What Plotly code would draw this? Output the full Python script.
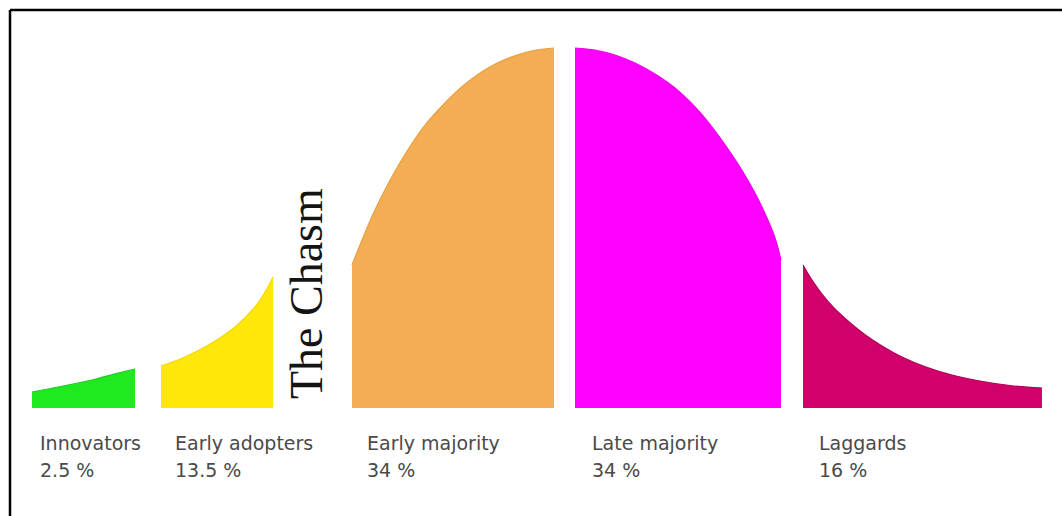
import plotly.graph_objects as go

# Adopter categories (Rogers' diffusion of innovations) and their shares
categories = ["Innovators", "Early adopters", "Early majority", "Late majority", "Laggards"]
shares = [2.5, 13.5, 34, 34, 16]

# Outline of each segment of the adoption curve: position along the axis and curve height
innov_x = [32, 58, 92, 118, 135]
innov_h = [16, 21, 28, 35, 39]

early_adopt_x = [161, 185, 212, 235, 255, 268, 273]
early_adopt_h = [42, 51, 65, 81, 101, 121, 131]

early_major_x = [352, 362, 374, 388, 404, 422, 442, 464, 488, 514, 536, 554]
early_major_h = [143, 168, 196, 224, 252, 279, 302, 323, 340, 352, 358, 360]

late_major_x = [575, 595, 615, 635, 655, 675, 695, 712, 728, 743, 756, 767, 775, 781]
late_major_h = [360, 358, 353, 345, 334, 320, 301, 281, 259, 236, 213, 190, 170, 148]

laggard_x = [803, 812, 822, 834, 848, 864, 882, 902, 926, 952, 980, 1010, 1042]
laggard_h = [143, 128, 114, 100, 87, 74, 62, 51, 41, 33, 27, 22.5, 20]

segments_x = [innov_x, early_adopt_x, early_major_x, late_major_x, laggard_x]
segments_h = [innov_h, early_adopt_h, early_major_h, late_major_h, laggard_h]

fills = ["#1FEA1F", "#FFE70A", "#F3AD55", "#FF00FF", "#D2006A"]
edges = ["#19D019", "#F2D800", "#E9A043", "#EE00EE", "#B0005A"]
label_offsets = [6, 12, 13, 15, 14]

fig = go.Figure()

for xs, hs, fc, ec in zip(segments_x, segments_h, fills, edges):
    fig.add_trace(go.Scatter(
        x=xs, y=hs,
        mode="lines",
        line=dict(color=ec, width=1.2, shape="spline", smoothing=1.0),
        fill="tozeroy",
        fillcolor=fc,
        hoverinfo="skip",
        showlegend=False,
    ))

label_font = dict(family="DejaVu Sans, Arial, sans-serif", size=19, color="#4A4A4A")

# Category names and percentages beneath each segment
for name, share, xs, off in zip(categories, shares, segments_x, label_offsets):
    fig.add_annotation(
        x=xs[0] + off, y=-35, text=name, showarrow=False,
        xanchor="left", yanchor="middle", font=label_font,
    )
    fig.add_annotation(
        x=xs[0] + off, y=-62, text=f"{share:g} %", showarrow=False,
        xanchor="left", yanchor="middle", font=label_font,
    )

# The gap between early adopters and early majority
fig.add_annotation(
    x=306, y=114, text="The Chasm", showarrow=False, textangle=-90,
    xanchor="center", yanchor="middle",
    font=dict(family="Liberation Serif, Times New Roman, serif", size=46, color="#141414"),
)

# Frame line along the top and left side
fig.add_shape(type="line", xref="paper", yref="paper",
              x0=10 / 1062, x1=1.0, y0=1 - 10 / 516, y1=1 - 10 / 516,
              line=dict(color="black", width=2.5))
fig.add_shape(type="line", xref="paper", yref="paper",
              x0=10 / 1062, x1=10 / 1062, y0=0, y1=1 - 10 / 516,
              line=dict(color="black", width=2.5))

fig.update_layout(
    width=1062, height=516,
    margin=dict(l=0, r=0, t=0, b=0),
    paper_bgcolor="white", plot_bgcolor="white",
    xaxis=dict(range=[0, 1062], visible=False, fixedrange=True),
    yaxis=dict(range=[-108, 408], visible=False, fixedrange=True),
)

fig.write_html("out.html")
